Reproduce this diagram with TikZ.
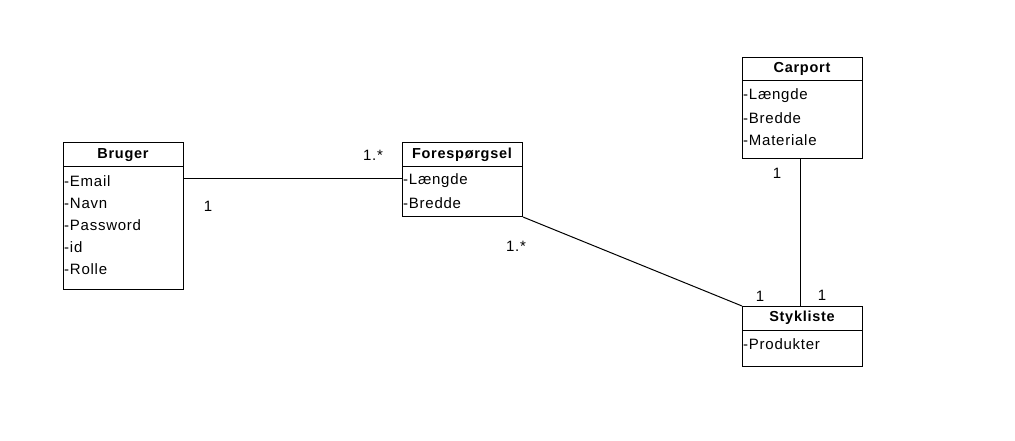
\documentclass[tikz,border=0pt]{standalone}
\usepackage{fontspec}
\setmainfont{Liberation Sans}[LetterSpace=5]
\begin{document}
\begin{tikzpicture}[x=1pt,y=-1pt,
  box/.style={draw=black,line width=1pt,fill=white,anchor=north west,inner sep=0pt},
  head/.style={font=\fontsize{14.5}{16}\selectfont\bfseries,anchor=center,inner sep=0pt},
  attr/.style={font=\fontsize{15}{17}\selectfont,anchor=west,inner sep=0pt},
  mult/.style={font=\fontsize{15}{17}\selectfont,inner sep=0pt},
  assoc/.style={line width=1pt,black}]
\useasboundingbox (0,0) rectangle (1015,440);
% Bruger
\node[box,minimum width=120pt,minimum height=147pt] (bruger) at (63,142) {};
\coordinate (bl) at (63,166); \coordinate (br) at (183,166);
\draw[line width=1pt] (bl) -- (br);
\node[head] (brugerh) at (123,155) {Bruger};
\node[attr] (b1) at (64,181) {-Email};
\node[attr] (b2) at (64,203) {-Navn};
\node[attr] (b3) at (64,225) {-Password};
\node[attr] (b4) at (64,247) {-id};
\node[attr] (b5) at (64,269) {-Rolle};
% Forespoergsel
\node[box,minimum width=120pt,minimum height=74pt] (fore) at (402,142) {};
\coordinate (fl) at (402,166); \coordinate (fr) at (522,166);
\draw[line width=1pt] (fl) -- (fr);
\node[head] (foreh) at (462,155) {Forespørgsel};
\node[attr] (f1) at (403,181) {-Længde};
\node[attr] (f2) at (403,203) {-Bredde};
% Carport
\node[box,minimum width=120pt,minimum height=101pt] (carport) at (742,57) {};
\coordinate (cl) at (742,80); \coordinate (cr) at (862,80);
\draw[line width=1pt] (cl) -- (cr);
\node[head] (carporth) at (802,69) {Carport};
\node[attr] (c1) at (743,96) {-Længde};
\node[attr] (c2) at (743,118) {-Bredde};
\node[attr] (c3) at (743,140) {-Materiale};
% Stykliste
\node[box,minimum width=120pt,minimum height=60pt] (stykliste) at (742,306) {};
\coordinate (sl) at (742,330); \coordinate (sr) at (862,330);
\draw[line width=1pt] (sl) -- (sr);
\node[head] (styklisteh) at (802,318) {Stykliste};
\node[attr] (s1) at (743,344) {-Produkter};
% associations
\coordinate (bf1) at (183,178); \coordinate (bf2) at (402,178);
\draw[assoc] (bf1) -- (bf2);
\draw[assoc] (fore.south east) -- (stykliste.north west);
\coordinate (cs1) at (800,158); \coordinate (cs2) at (800,306);
\draw[assoc] (cs1) -- (cs2);
% multiplicities
\node[mult] (m1) at (208,206) {1};
\node[mult] (m2) at (373,155) {1.*};
\node[mult] (m3) at (516,246) {1.*};
\node[mult] (m4) at (760,296) {1};
\node[mult] (m5) at (777,173) {1};
\node[mult] (m6) at (822,295) {1};
\end{tikzpicture}
\end{document}
